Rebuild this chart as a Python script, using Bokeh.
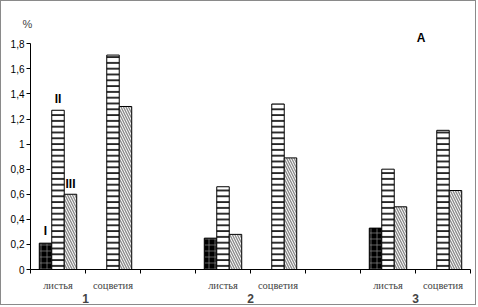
from bokeh.plotting import figure
from bokeh.models import (FixedTicker, CustomJSTickFormatter, Label, LinearAxis)
from bokeh.embed import file_html
from bokeh.resources import INLINE

# ---- data ----
slot_labels = ["листья", "соцветия", "", "листья", "соцветия", "", "листья", "соцветия"]
leaf_slots = [0, 3, 6]
infl_slots = [1, 4, 7]
group_names = ["1", "2", "3"]
group_ticks = [1, 4, 7]
series_I_leaf = [0.21, 0.25, 0.33]
series_II_leaf = [1.27, 0.66, 0.80]
series_III_leaf = [0.60, 0.28, 0.50]
series_II_infl = [1.71, 1.32, 1.11]
series_III_infl = [1.30, 0.89, 0.63]
y_ticks = [0, 0.2, 0.4, 0.6, 0.8, 1.0, 1.2, 1.4, 1.6, 1.8]

BW = 0.227
FONT = "Liberation Sans"

p = figure(width=476, height=305, output_backend="svg", toolbar_location=None,
           x_range=(0, 8), y_range=(0, 1.906),
           min_border_left=29, min_border_right=7, min_border_top=29, min_border_bottom=37,
           x_axis_type=None, y_axis_type=None)
p.styles = {"border": "1px solid #8a8a8a"}
p.outline_line_color = None
p.xgrid.visible = False
p.ygrid.visible = False
p.background_fill_color = "white"
p.border_fill_color = "white"

p.title.text = "%"
p.title.align = "left"
p.title.offset = -8
p.title.text_font = FONT
p.title.text_font_size = "11px"
p.title.text_font_style = "normal"
p.title.standoff = 1
p.title.vertical_align = "bottom"

# y axis
yax = LinearAxis(ticker=FixedTicker(ticks=y_ticks),
                 formatter=CustomJSTickFormatter(code="return tick.toFixed(1).replace('.', ',').replace(',0', '');"),
                 bounds=(0, 1.8))
yax.major_tick_out = 4
yax.major_tick_in = 0
yax.minor_tick_out = 0
yax.minor_tick_in = 0
yax.major_label_standoff = 2
yax.major_label_text_font = FONT
yax.major_label_text_font_size = "10px"
yax.major_label_text_color = "black"
yax.axis_line_color = "black"
p.add_layout(yax, "left")

# x axis with category names
centers = [i + 0.5 for i in range(8)]
xax = LinearAxis(ticker=FixedTicker(ticks=centers, minor_ticks=list(range(9))))
xax.major_label_overrides = {c: lab for c, lab in zip(centers, slot_labels)}
xax.major_tick_out = 0
xax.major_tick_in = 0
xax.minor_tick_out = 4
xax.minor_tick_in = 0
xax.major_label_standoff = 6
xax.major_label_text_font = "'Liberation Serif', serif"
xax.major_label_text_font_size = "10.5px"
xax.axis_line_color = "black"
p.add_layout(xax, "below")

# second x axis with group numbers
gax = LinearAxis(ticker=FixedTicker(ticks=group_ticks, minor_ticks=[]))
gax.major_label_overrides = {t: n for t, n in zip(group_ticks, group_names)}
gax.axis_line_color = None
gax.major_tick_line_color = None
gax.minor_tick_line_color = None
gax.major_tick_out = 0
gax.major_tick_in = 0
gax.major_label_standoff = 0
gax.major_label_text_font = FONT
gax.major_label_text_font_size = "12px"
gax.major_label_text_font_style = "bold"
p.add_layout(gax, "below")

# bars
leaf_c = [s + 0.5 for s in leaf_slots]
infl_c = [s + 0.5 for s in infl_slots]

p.vbar(x=[c - BW for c in leaf_c], top=series_I_leaf, width=BW, bottom=0,
       fill_color="black", line_color="black", line_width=1,
       hatch_pattern="+", hatch_color="#8a8a8a", hatch_scale=6, hatch_weight=0.7)

for xs, vals in [(leaf_c, series_II_leaf), (infl_c, series_II_infl)]:
    p.vbar(x=xs, top=vals, width=BW, bottom=0,
           fill_color="white", line_color="black", line_width=1,
           hatch_pattern="-", hatch_color="black", hatch_scale=5.8, hatch_weight=1.6)

for xs, vals in [(leaf_c, series_III_leaf), (infl_c, series_III_infl)]:
    p.vbar(x=[c + BW for c in xs], top=vals, width=BW, bottom=0,
           fill_color="white", line_color="black", line_width=1,
           hatch_pattern="\\", hatch_color="#8c8c8c", hatch_scale=5, hatch_weight=1.4)

# series labels (inside the plot area)
def lab(text, x, y, size="12px"):
    p.add_layout(Label(x=x, y=y, text=text, text_font=FONT, text_font_size=size,
                       text_font_style="bold", text_align="center",
                       text_baseline="middle", text_color="black"))

lab("I", leaf_c[0] - BW, 0.31)
lab("II", leaf_c[0], 1.36)
lab("III", leaf_c[0] + BW, 0.68)
lab("А", 7.1, 1.85)

open("out.html", "w").write(file_html(p, INLINE))
